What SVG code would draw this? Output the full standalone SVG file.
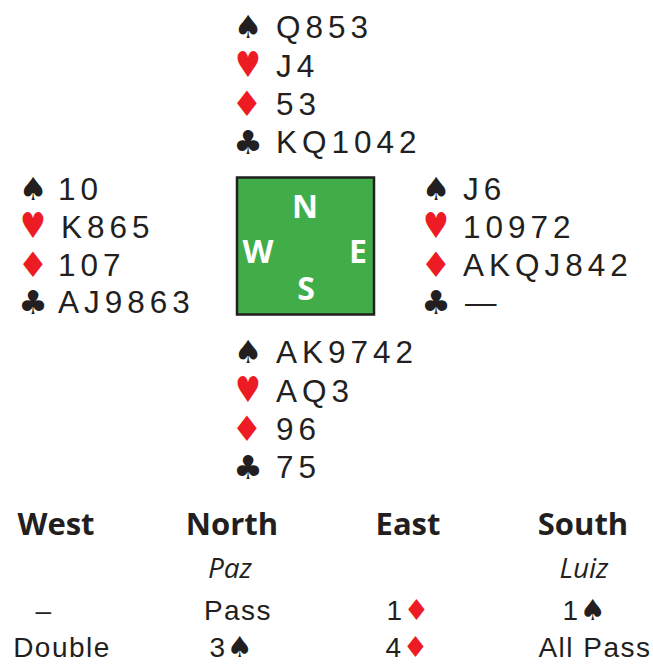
<svg xmlns="http://www.w3.org/2000/svg" width="653" height="664" viewBox="0 0 653 664">
<style>
.cards{font-family:"Liberation Sans",Arial,sans-serif;font-size:31.5px;letter-spacing:5px;fill:#231F20}
.suit{font-family:"DejaVu Sans",sans-serif;text-anchor:middle}
.s{font-size:32px}
.h{font-size:34px}
.d{font-size:35px}
.c{font-size:33px}
.blk{fill:#231F20}
.red{fill:#ED1C24}
.compass{font-family:"Open Sans","DejaVu Sans",sans-serif;font-weight:bold;font-size:32px;fill:#FFFFFF;text-anchor:middle}
.hdr{font-family:"Open Sans","DejaVu Sans",sans-serif;font-weight:bold;font-size:31px;fill:#231F20;text-anchor:middle}
.name{font-family:"Open Sans","DejaVu Sans",sans-serif;font-style:italic;font-size:28px;fill:#231F20;text-anchor:middle}
.bid{font-family:"Liberation Sans",Arial,sans-serif;font-size:28px;letter-spacing:1.5px;fill:#231F20;text-anchor:middle}
.bs{font-family:"DejaVu Sans",sans-serif;font-size:29px;letter-spacing:0}
</style>
<rect width="653" height="664" fill="#FFFFFF"/>

<g id="north">
  <text class="suit s blk" x="248" y="38">♠</text><text class="cards" x="276" y="38">Q853</text>
  <text class="suit h red" transform="translate(248,77) scale(0.85,1.05)">♥</text><text class="cards" x="276" y="77">J4</text>
  <text class="suit d red" x="247" y="116">♦</text><text class="cards" x="276" y="115">53</text>
  <text class="suit c blk" x="248" y="154">♣</text><text class="cards" x="276" y="153">KQ1042</text>
</g>

<g id="west">
  <text class="suit s blk" x="33" y="200">♠</text><text class="cards" x="58" y="200">10</text>
  <text class="suit h red" transform="translate(33,238) scale(0.85,1.05)">♥</text><text class="cards" x="61" y="238">K865</text>
  <text class="suit d red" x="33" y="277">♦</text><text class="cards" x="58" y="276">107</text>
  <text class="suit c blk" x="33" y="314">♣</text><text class="cards" x="58" y="313">AJ9863</text>
</g>

<g id="east">
  <text class="suit s blk" x="436" y="200">♠</text><text class="cards" x="463" y="200">J6</text>
  <text class="suit h red" transform="translate(436,238) scale(0.85,1.05)">♥</text><text class="cards" x="463" y="238">10972</text>
  <text class="suit d red" x="436" y="277">♦</text><text class="cards" x="463" y="276">AKQJ842</text>
  <text class="suit c blk" x="436" y="314">♣</text><text class="cards" x="465" y="313" style="letter-spacing:0">—</text>
</g>

<g id="south">
  <text class="suit s blk" x="248" y="363">♠</text><text class="cards" x="276" y="363">AK9742</text>
  <text class="suit h red" transform="translate(248,402) scale(0.85,1.05)">♥</text><text class="cards" x="276" y="402">AQ3</text>
  <text class="suit d red" x="247" y="441">♦</text><text class="cards" x="276" y="440">96</text>
  <text class="suit c blk" x="248" y="479">♣</text><text class="cards" x="276" y="478">75</text>
</g>

<g id="compass">
  <rect x="237" y="177.5" width="137" height="137" fill="#41AD49" stroke="#231F20" stroke-width="2.5"/>
  <text class="compass" x="305" y="218">N</text>
  <text class="compass" x="258" y="263">W</text>
  <text class="compass" x="358" y="263">E</text>
  <text class="compass" x="306" y="300">S</text>
</g>

<g id="bidding">
  <text class="hdr" x="56" y="535">West</text>
  <text class="hdr" x="232" y="535">North</text>
  <text class="hdr" x="408" y="535">East</text>
  <text class="hdr" x="583" y="535">South</text>
  <text class="name" x="230" y="578">Paz</text>
  <text class="name" x="584" y="578">Luiz</text>
  <text class="bid" x="44" y="620">–</text>
  <text class="bid" x="238" y="620">Pass</text>
  <text class="bid" x="408" y="620">1<tspan class="bs red">♦</tspan></text>
  <text class="bid" x="584" y="620">1<tspan class="bs blk">♠</tspan></text>
  <text class="bid" x="62" y="657">Double</text>
  <text class="bid" x="231" y="657">3<tspan class="bs blk">♠</tspan></text>
  <text class="bid" x="407" y="657">4<tspan class="bs red">♦</tspan></text>
  <text class="bid" x="595" y="657">All Pass</text>
</g>
</svg>
